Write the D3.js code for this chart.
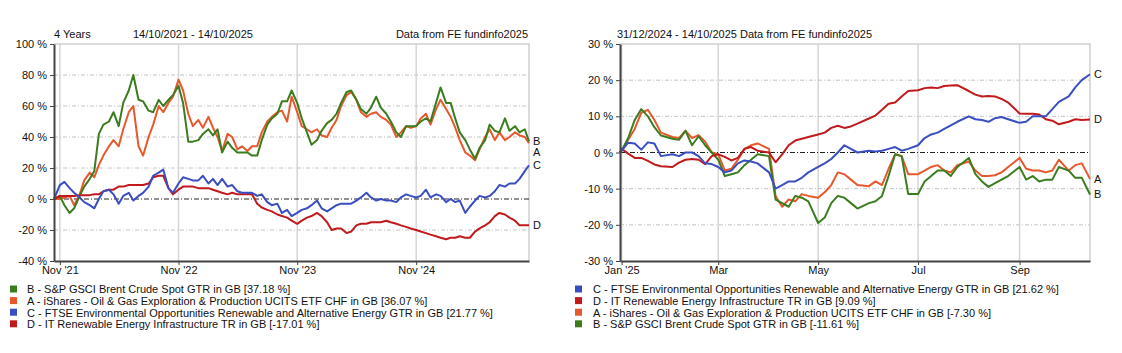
<!DOCTYPE html>
<html>
<head>
<meta charset="utf-8">
<script src="https://cdn.jsdelivr.net/npm/d3@7"></script>
<style>
  body { margin: 0; background: #fff; }
  svg { display: block; font-family: "Liberation Sans", Arial, sans-serif; }
</style>
</head>
<body>
<div id="chart"></div>
<script>
// ---- left panel: 4 years, half-monthly readings ----
const leftDates = [
  "2021-10-14","2021-11-01","2021-11-15","2021-12-01","2021-12-15",
  "2022-01-01","2022-01-15","2022-02-01","2022-02-15","2022-03-01","2022-03-15","2022-04-01","2022-04-15",
  "2022-05-01","2022-05-15","2022-06-01","2022-06-15","2022-07-01","2022-07-15","2022-08-01","2022-08-15",
  "2022-09-01","2022-09-15","2022-10-01","2022-10-15","2022-11-01","2022-11-15","2022-12-01","2022-12-15",
  "2023-01-01","2023-01-15","2023-02-01","2023-02-15","2023-03-01","2023-03-15","2023-04-01","2023-04-15",
  "2023-05-01","2023-05-15","2023-06-01","2023-06-15","2023-07-01","2023-07-15","2023-08-01","2023-08-15",
  "2023-09-01","2023-09-15","2023-10-01","2023-10-15","2023-11-01","2023-11-15","2023-12-01","2023-12-15",
  "2024-01-01","2024-01-15","2024-02-01","2024-02-15","2024-03-01","2024-03-15","2024-04-01","2024-04-15",
  "2024-05-01","2024-05-15","2024-06-01","2024-06-15","2024-07-01","2024-07-15","2024-08-01","2024-08-15",
  "2024-09-01","2024-09-15","2024-10-01","2024-10-15","2024-11-01","2024-11-15","2024-12-01","2024-12-15",
  "2025-01-01","2025-01-15","2025-02-01","2025-02-15","2025-03-01","2025-03-15","2025-04-01","2025-04-15",
  "2025-05-01","2025-05-15","2025-06-01","2025-06-15","2025-07-01","2025-07-15","2025-08-01","2025-08-15",
  "2025-09-01","2025-09-15","2025-10-01","2025-10-14"
];
const leftB = [0,2,-4,-9,-6,
  2,8,13,18,42,48,50,56,47,62,70,80,64,63,57,56,64,60,64,67,
  73,62,37,37,38,42,45,41,45,30,37,33,30,30,30,28,28,38,48,52,55,63,63,70,
  62,52,43,35,38,44,49,51,55,62,69,70,64,58,55,59,66,59,55,50,43,40,47,47,
  47,50,52,50,62,72,62,62,52,43,38,32,26,33,38,48,44,43,52,44,47,43,45,37.18];
const leftA = [0,0,1,2,-4,
  3,12,17,14,22,28,34,38,34,45,56,60,34,28,40,48,60,56,62,66,
  77,70,55,47,51,46,53,46,40,31,42,40,32,34,31,34,34,43,50,53,56,57,50,66,
  56,47,45,43,45,41,40,46,51,60,67,69,64,56,53,55,56,53,51,48,40,43,47,46,
  47,52,55,48,58,64,58,53,46,38,30,28,25,32,40,45,38,43,38,40,43,41,40,36.07];
const leftC = [0,9,11,7,4,
  1,-2,-4,-6,0,5,6,3,-3,2,4,-1,2,4,8,15,17,19,7,4,
  10,14,13,12,12,15,10,13,9,13,8,9,5,4,4,4,2,3,-2,-4,-3,-9,-7,-11,
  -9,-7,-6,-4,-1,-6,-8,-6,-4,-3,-3,-3,-1,1,4,1,-1,0,-1,-1,-2,1,3,2,
  1,2,6,1,3,2,-2,0,-2,-1,-9,-5,-1,2,1,2,5,9,8,10,10,13,18,21.77];
const leftD = [0,2,2,2,2,
  2.5,2.5,2.5,3,3,5,6,6,8,8,9,9,9,9,10,14,15,15,7,3,
  6,8,8,8,7,7,7,6,5,4,3,4,3,3,3,3,-3,-5.5,-7,-8,-10,-11,-12,-14,
  -16,-14,-12,-11,-9,-11,-15,-20,-19,-19,-22,-21,-17,-16,-16,-15,-15,-15,-14,-15,-16,-17,-18,-19,
  -20,-21,-22,-23,-24,-25,-26,-25,-25,-24,-25,-25,-21,-19,-17,-15,-11,-9,-10,-12,-14,-17,-17,-17.01];

// ---- right panel: year to date, readings every ~4 days ----
const rightDates = [
  "2024-12-31",
  "2025-01-01","2025-01-05","2025-01-09","2025-01-13","2025-01-17","2025-01-21","2025-01-25",
  "2025-02-01","2025-02-05","2025-02-09","2025-02-13","2025-02-17","2025-02-21","2025-02-25",
  "2025-03-01","2025-03-05","2025-03-09","2025-03-13","2025-03-17","2025-03-21","2025-03-25",
  "2025-04-01","2025-04-05","2025-04-09","2025-04-13","2025-04-17","2025-04-21","2025-04-25",
  "2025-05-01","2025-05-05","2025-05-09","2025-05-13","2025-05-17","2025-05-21","2025-05-25",
  "2025-06-01","2025-06-05","2025-06-09","2025-06-13","2025-06-17","2025-06-21","2025-06-25",
  "2025-07-01","2025-07-05","2025-07-09","2025-07-13","2025-07-17","2025-07-21","2025-07-25",
  "2025-08-01","2025-08-05","2025-08-09","2025-08-13","2025-08-17","2025-08-21","2025-08-25",
  "2025-09-01","2025-09-05","2025-09-09","2025-09-13","2025-09-17","2025-09-21","2025-09-25",
  "2025-10-01","2025-10-05","2025-10-09","2025-10-14"
];
const rightC = [0,
  0.5,2.7,2.5,0.8,2.8,2.5,-1,
  -0.5,-1,0,0,-1,-3,-3.2,
  -4,-5.5,-5,-3,-2.2,-2.5,-3,
  -5.5,-10,-9,-8,-8,-7,-5.5,
  -4,-3,-1.8,0,2,1,0,
  0.5,0.3,0.5,1,1.5,0.5,1,
  2,4,5,5.5,6.5,7.5,8.5,
  10,9.2,9,8.5,9.5,9.8,9.2,
  8.2,8.5,10,10,10,12,14,
  15.5,18,20,21.62];
const rightD = [0,
  1,-0.3,-1.5,-1.5,-2.3,-3.3,-3.8,
  -4,-2.8,-2,-1.8,-2,-3.2,-1,
  -0.5,-1.2,-2.2,-1.5,1,1.5,0.5,
  0,-2.7,-0.5,2,3.3,3.8,4.3,
  5,5.5,6.8,7.4,6.8,7.2,8,
  9.4,10.2,11.8,13.5,13.8,15.5,17,
  17.2,17.8,18,17.8,18.4,18.5,18.6,
  17,16,15.5,15.6,15.5,14.8,13.8,
  10.8,10.7,10.7,10.5,9.2,8.8,7.8,
  8.5,9.2,9,9.09];
const rightA = [0,
  0.5,3.5,6.5,11,11.8,9,5.5,
  4.3,4,6,4,4.8,3,0,
  -0.5,-5,-4.5,-2,1,2,2.5,
  1,-12,-15,-13,-13.5,-11.5,-12,
  -12.5,-11,-9,-5.5,-6,-7.5,-9,
  -9.3,-8,-9,-4.5,-0.5,-1,-6,
  -6,-5,-4,-3.5,-5,-5.5,-3.5,
  -2.5,-5,-6.5,-6.5,-6.3,-5.5,-4,
  -1.5,-4.5,-5,-5,-5.5,-5,-2,
  -5,-3.5,-3,-7.3];
const rightB = [0,
  0.5,4,9,12,10,7,4.7,
  3.8,3.5,6,2,4.5,2,0,
  -2,-6.5,-6,-5.5,-3.5,-2,-0.5,
  -1,-13,-14,-15,-12,-12.5,-13.5,
  -19.5,-18,-14,-12,-12.5,-14,-15.5,
  -14,-13.5,-12,-6.5,-0.5,-1,-11.5,
  -11.5,-8,-6.5,-5,-5,-6.5,-4,
  -1.5,-6,-8,-9.5,-8.5,-7.5,-6.5,
  -4,-7.5,-6.5,-8,-7.5,-7.5,-4,
  -5,-7,-7,-11.61];

// ---- ticks and labels ----
const leftYTicks = [-40, -20, 0, 20, 40, 60, 80, 100];
const leftXTicks = ["2021-11-01", "2022-11-01", "2023-11-01", "2024-11-01"];
const leftXLabels = ["Nov '21", "Nov '22", "Nov '23", "Nov '24"];
const rightYTicks = [-30, -20, -10, 0, 10, 20, 30];
const rightXTicks = ["2025-01-01", "2025-03-01", "2025-05-01", "2025-07-01", "2025-09-01"];
const rightXLabels = ["Jan '25", "Mar", "May", "Jul", "Sep"];

const seriesNames = {
  A: "iShares - Oil & Gas Exploration & Production UCITS ETF CHF in GB",
  B: "S&P GSCI Brent Crude Spot GTR in GB",
  C: "FTSE Environmental Opportunities Renewable and Alternative Energy GTR in GB",
  D: "IT Renewable Energy Infrastructure TR in GB"
};
const seriesColors = { A: "#e8582c", B: "#3b7c1f", C: "#3a4ec0", D: "#c01a1c" };
const leftLegendOrder = ["B", "A", "C", "D"];
const rightLegendOrder = ["C", "D", "A", "B"];

const W = 1122, H = 353;
const parse = d3.timeParse("%Y-%m-%d");
const svg = d3.select("#chart").append("svg").attr("width", W).attr("height", H);

function panel(opt) {
  const g = svg.append("g");
  const dates = opt.dates.map(parse);
  const x = d3.scaleTime()
              .domain([dates[0], dates[dates.length - 1]])
              .range([opt.x0, opt.x1]);
  const y = d3.scaleLinear().domain(opt.yDomain).range([opt.y1, opt.y0]);
  const xt = opt.xTicks.map(parse);

  // vertical grid
  g.selectAll(".vgrid").data(xt).join("line")
   .attr("x1", d => x(d)).attr("x2", d => x(d))
   .attr("y1", opt.y0).attr("y2", opt.y1)
   .attr("stroke", "#d6d6d6").attr("stroke-width", 1.5);

  // horizontal grid
  g.selectAll(".hgrid")
   .data(opt.yTicks.filter(v => v !== 0 && v !== opt.yDomain[0] && v !== opt.yDomain[1]))
   .join("line")
   .attr("x1", opt.x0).attr("x2", opt.x1)
   .attr("y1", d => y(d)).attr("y2", d => y(d))
   .attr("stroke", "#c4c4c4").attr("stroke-dasharray", "4,2,1,2");

  // frame top/right
  g.append("path")
   .attr("d", `M${opt.x0},${opt.y0}H${opt.x1}V${opt.y1}`)
   .attr("fill", "none").attr("stroke", "#cfcfcf").attr("stroke-width", 1.5);

  // zero line
  g.append("line")
   .attr("x1", opt.x0).attr("x2", opt.x1)
   .attr("y1", y(0)).attr("y2", y(0))
   .attr("stroke", "#222").attr("stroke-dasharray", "5,2,1,2");

  // series
  const line = d3.line().x(d => x(d.date)).y(d => y(d.value));
  opt.drawOrder.forEach(k => {
    const pts = opt.series[k].map((v, i) => ({ date: dates[i], value: v }));
    g.append("path")
     .datum(pts)
     .attr("fill", "none")
     .attr("stroke", seriesColors[k])
     .attr("stroke-width", 2)
     .attr("stroke-linejoin", "round")
     .attr("d", line);
  });

  // axes
  const yAxis = d3.axisLeft(y).tickValues(opt.yTicks).tickSize(4).tickSizeOuter(0)
                  .tickPadding(3).tickFormat(d => d + " %");
  const ya = g.append("g").attr("transform", `translate(${opt.x0},0)`).call(yAxis);
  const xAxis = d3.axisBottom(x).tickValues(xt).tickSize(4).tickSizeOuter(0)
                  .tickPadding(1).tickFormat((d, i) => opt.xLabels[i]);
  const xa = g.append("g").attr("transform", `translate(0,${opt.y1})`).call(xAxis);
  [ya, xa].forEach(a => {
    a.select(".domain").attr("stroke", "#444").attr("stroke-width", 2);
    a.selectAll(".tick line").attr("stroke", "#444");
    a.selectAll("text").attr("font-size", 11).attr("fill", "#111")
     .attr("font-family", "Liberation Sans, Arial, sans-serif");
  });

  // end labels with simple collision avoidance
  const ends = opt.drawOrder.map(k => ({ k, yy: y(opt.series[k][opt.series[k].length - 1]) }))
                            .sort((a, b) => a.yy - b.yy);
  for (let i = 1; i < ends.length; i++) {
    if (ends[i].yy - ends[i - 1].yy < 11) ends[i].yy = ends[i - 1].yy + 11;
  }
  g.selectAll(".endlab").data(ends).join("text")
   .attr("x", opt.x1 + 4).attr("y", d => d.yy).attr("dy", "0.35em")
   .attr("font-size", 11).attr("fill", "#111")
   .text(d => d.k);

  // header
  opt.header.forEach(h => {
    g.append("text").attr("x", h.x).attr("y", 38).attr("font-size", 11)
     .attr("fill", "#111").attr("text-anchor", h.anchor || "start").text(h.text);
  });

  // legend
  const lg = g.append("g");
  opt.legendOrder.forEach((k, i) => {
    const ly = 289.5 + i * 11.6;
    const s = opt.series[k];
    lg.append("rect").attr("x", opt.legendX).attr("y", ly - 4)
      .attr("width", 7).attr("height", 7).attr("fill", seriesColors[k]);
    lg.append("text").attr("x", opt.legendX + opt.legendGap).attr("y", ly).attr("dy", "0.35em")
      .attr("font-size", 11).attr("fill", "#111")
      .text(`${k} - ${seriesNames[k]} [${s[s.length - 1].toFixed(2)} %]`);
  });
}

panel({
  dates: leftDates,
  series: { A: leftA, B: leftB, C: leftC, D: leftD },
  drawOrder: ["A", "B", "D", "C"],
  legendOrder: leftLegendOrder,
  x0: 54, x1: 529, y0: 44, y1: 261,
  yDomain: [-40, 100], yTicks: leftYTicks,
  xTicks: leftXTicks, xLabels: leftXLabels,
  legendX: 10, legendGap: 17,
  header: [
    { x: 54, text: "4 Years" },
    { x: 133, text: "14/10/2021 - 14/10/2025" },
    { x: 528, text: "Data from FE fundinfo2025", anchor: "end" }
  ]
});

panel({
  dates: rightDates,
  series: { A: rightA, B: rightB, C: rightC, D: rightD },
  drawOrder: ["A", "B", "D", "C"],
  legendOrder: rightLegendOrder,
  x0: 620, x1: 1090, y0: 44, y1: 261,
  yDomain: [-30, 30], yTicks: rightYTicks,
  xTicks: rightXTicks, xLabels: rightXLabels,
  legendX: 575, legendGap: 18,
  header: [
    { x: 617, text: "31/12/2024 - 14/10/2025 Data from FE fundinfo2025" }
  ]
});
</script>
</body>
</html>
